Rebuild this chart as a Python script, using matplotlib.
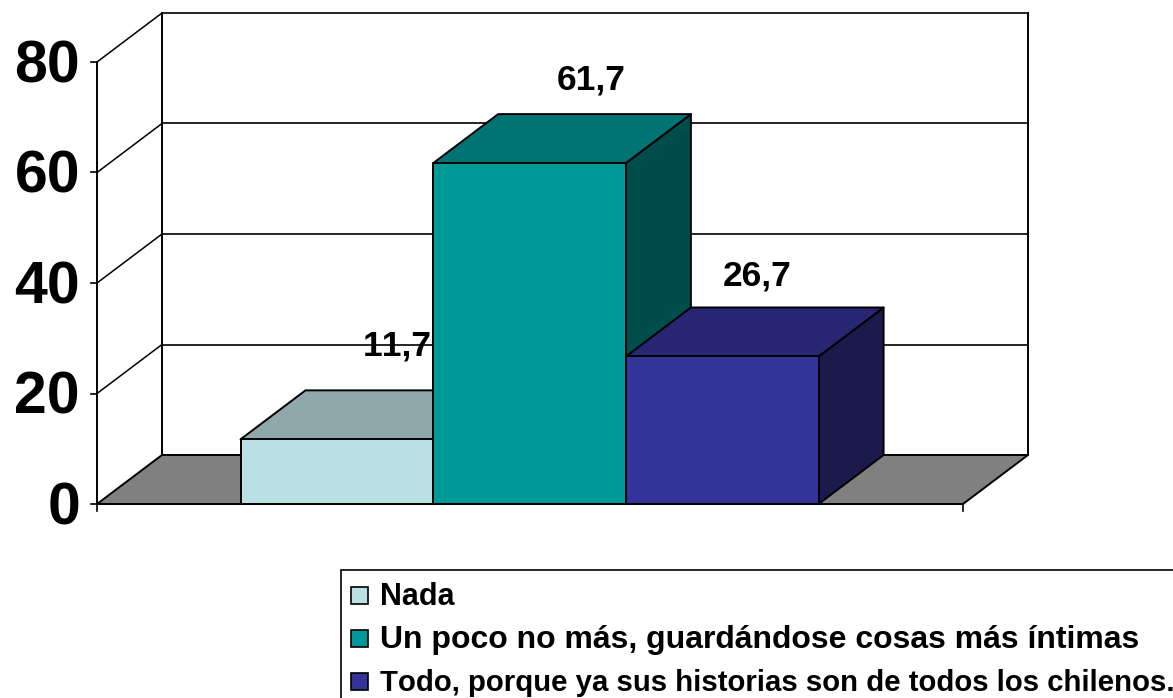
import matplotlib
matplotlib.use('Agg')
import matplotlib.pyplot as plt
from matplotlib.patches import Polygon, Rectangle

plt.rcParams['font.family'] = ['Liberation Sans', 'DejaVu Sans']
plt.rcParams['text.kerning_factor'] = 6

categories = ['Nada',
              'Un poco no más, guardándose cosas más íntimas',
              'Todo, porque ya sus historias son de todos los chilenos.']
values = [11.7, 61.7, 26.7]
value_labels = ['11,7', '61,7', '26,7']
y_ticks = [0, 20, 40, 60, 80]

front_colors = ['#BBE0E3', '#009999', '#333399']
top_colors = ['#8FA8AB', '#007373', '#262673']
side_colors = ['#5E7072', '#004D4D', '#1A1A4D']

W, H = 1173, 698
# pixel geometry of the fake 3d box
X0, X1 = 97, 963
Y0, PX_PER_UNIT = 504, 5.525
DX, DY = 65, 49
BAR_W = 192.7
BAR_START = 240.5
YMAX = 80
DEPTH_V = DY / PX_PER_UNIT


def yv(pix):
    return (Y0 - pix) / PX_PER_UNIT


fig = plt.figure(figsize=(W / 100, H / 100), dpi=100, facecolor='white')
ax = fig.add_axes([0, 0, 1, 1])
ax.set_xlim(0, W)
ax.set_ylim(yv(H), yv(0))
ax.axis('off')

edge = dict(edgecolor='black', linewidth=1.4, joinstyle='round')

# floor
ax.add_patch(Polygon([(X0, 0), (X1, 0), (X1 + DX, DEPTH_V), (X0 + DX, DEPTH_V)],
                     facecolor='#808080', zorder=2, **edge))
# walls and gridlines
ax.plot([X0, X0], [0, YMAX], color='black', lw=1.4, zorder=1)
ax.plot([X0 + DX, X0 + DX], [DEPTH_V, YMAX + DEPTH_V], color='black', lw=1.4, zorder=1)
ax.plot([X1 + DX, X1 + DX], [DEPTH_V, YMAX + DEPTH_V], color='black', lw=1.4, zorder=1)
for t in y_ticks[1:]:
    ax.plot([X0, X0 + DX], [t, t + DEPTH_V], color='black', lw=1.1, zorder=1)
    ax.plot([X0 + DX, X1 + DX], [t + DEPTH_V, t + DEPTH_V], color='black', lw=1.2, zorder=1)
for t in y_ticks:
    ax.plot([X0 - 6, X0], [t, t], color='black', lw=1.2, zorder=1)
    ax.text(X0 - 17, t - 0.9, str(t), ha='right', va='center',
            fontsize=42.5, fontweight='bold', color='black', zorder=6)
ax.plot([X0, X0], [0, yv(Y0 + 7)], color='black', lw=1.2, zorder=1)
ax.plot([X1, X1], [0, yv(Y0 + 7)], color='black', lw=1.2, zorder=1)

# bars, left to right so each one covers the side of the previous
for i, v in enumerate(values):
    l = BAR_START + i * BAR_W
    r = l + BAR_W
    ax.add_patch(Polygon([(r, 0), (r + DX, DEPTH_V), (r + DX, v + DEPTH_V), (r, v)],
                         facecolor=side_colors[i], zorder=3 + i * 0.1, **edge))
    ax.add_patch(Polygon([(l, v), (r, v), (r + DX, v + DEPTH_V), (l + DX, v + DEPTH_V)],
                         facecolor=top_colors[i], zorder=3 + i * 0.1, **edge))
    ax.add_patch(Rectangle((l, 0), BAR_W, v, facecolor=front_colors[i],
                           zorder=3 + i * 0.1, **edge))

# front axis line on top of the bars
ax.plot([X0, X1], [0, 0], color='black', lw=1.4, zorder=4)

# value labels
label_x = [397, 591, 757]
label_y = [346, 80, 276]
for s, lx, ly in zip(value_labels, label_x, label_y):
    ax.text(lx, yv(ly), s, ha='center', va='center', fontsize=25.5,
            fontweight='bold', color='black', zorder=6)

# legend, cut by the right edge like the original
ax.add_patch(Rectangle((340.5, yv(H + 5)), W, yv(570) - yv(H + 5),
                       facecolor='white', edgecolor='black', linewidth=1.2, zorder=4))
legend_y = [597, 640, 683]
swatch_y = [595, 638, 681]
legend_sizes = [22, 23, 21.2]
for s, c, ly, sy, fs in zip(categories, front_colors, legend_y, swatch_y, legend_sizes):
    ax.add_patch(Rectangle((351, yv(sy + 8.5)), 17, 17 / PX_PER_UNIT,
                           facecolor=c, edgecolor='black', linewidth=1.2, zorder=5))
    ax.text(380, yv(ly), s, ha='left', va='center', fontsize=fs,
            fontweight='bold', color='black', zorder=6)

fig.savefig('out.png', dpi=100)
